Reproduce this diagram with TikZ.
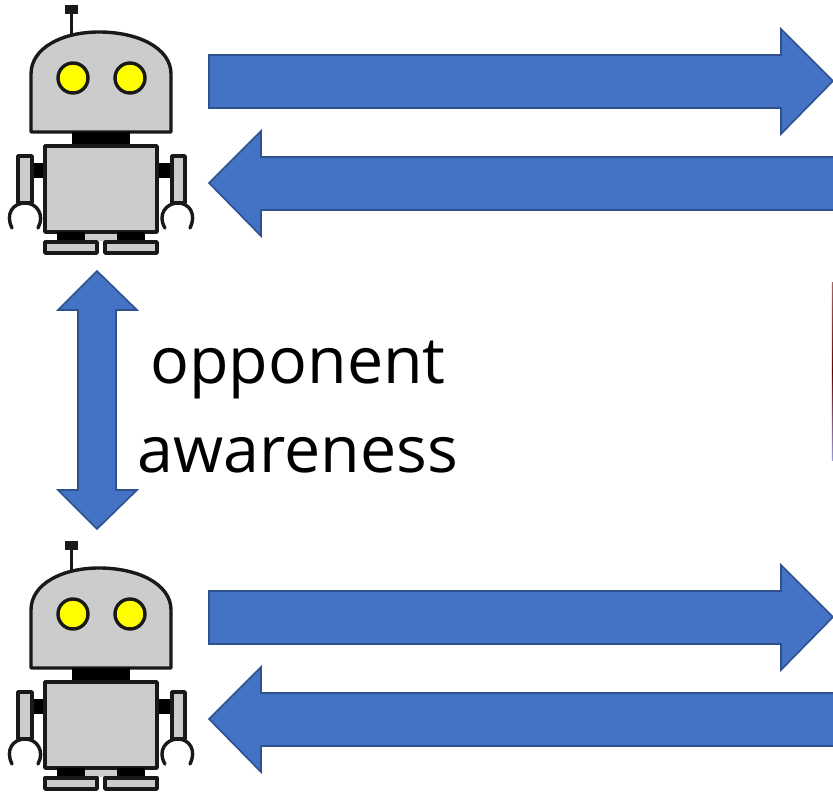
\documentclass[tikz,border=0pt]{standalone}
\usepackage{fontspec}
\setmainfont{Open Sans}
\definecolor{blockfill}{HTML}{4472C4}
\definecolor{blockline}{HTML}{2F528F}
\definecolor{botgray}{HTML}{CCCCCC}
\definecolor{boteye}{HTML}{FFFF00}
\tikzset{
  blockarrow/.style={fill=blockfill,draw=blockline,line width=1.6pt,line join=miter},
  botpart/.style={fill=botgray,draw=black!90,line width=3.4pt,line join=round},
  botblack/.style={fill=black,draw=none},
  boteyes/.style={fill=boteye,draw=black!90,line width=3.4pt},
  claw/.style={draw=black!90,line width=3.4pt,line cap=round},
  label/.style={font=\fontsize{64.5pt}{64.5pt}\selectfont,text=black,inner sep=0pt,anchor=base}
}
\newcommand{\drawbot}[1]{%
\begin{scope}[shift={(0,#1)}]
  \fill[black!90] (65,5) rectangle (78,14);
  \draw[black!90,line width=3pt] (71,13) -- (71,36);
  \path[botpart] (31,132) -- (31,74) .. controls (31,48) and (62,32) .. (99,32)
     .. controls (138,32) and (171,48) .. (171,74) -- (171,132) -- cycle;
  \path[boteyes] (73,78) circle (15);
  \path[boteyes] (130,78) circle (15);
  \path[botblack] (72,132) rectangle (130,147);
  \path[botblack] (31,163) rectangle (46,178);
  \path[botblack] (156,163) rectangle (172,178);
  \path[botpart] (18,156) rectangle (32,203);
  \path[botpart] (172,156) rectangle (185,203);
  \draw[claw] (12,228) .. controls (5,214) and (13,203) .. (25,203) .. controls (37,203) and (45,215) .. (38,228);
  \draw[claw] (190,228) .. controls (197,214) and (189,203) .. (178,203) .. controls (166,203) and (157,215) .. (165,228);
  \path[botpart] (45,146) rectangle (157,232);
  \fill[botgray] (85,234) rectangle (117,241);
  \path[botblack] (57,232) rectangle (85,241);
  \path[botblack] (117,232) rectangle (145,241);
  \path[botpart] (45,242) rectangle (97,253);
  \path[botpart] (105,242) rectangle (157,253);
\end{scope}}
\newcommand{\drawpair}[1]{%
\begin{scope}[shift={(0,#1)}]
  \path[blockarrow] (209,55) -- (781,55) -- (781,29) -- (833,81) -- (781,134) -- (781,108) -- (209,108) -- cycle;
  \path[blockarrow] (835,157) -- (261,157) -- (261,131) -- (209,183) -- (261,236) -- (261,210) -- (835,210);
\end{scope}}
\begin{document}
\begin{tikzpicture}[x=1pt,y=-1pt]
  \useasboundingbox (0,0) rectangle (833,792);
  \fill[white] (0,0) rectangle (833,792);
  \begin{scope}
    \clip (0,0) rectangle (833,792);
    \drawpair{0}
    \drawpair{536}
    \drawbot{0}
    \drawbot{536}
    \path[blockarrow] (97,271) -- (137,310) -- (116,310) -- (116,490) -- (137,490) -- (97,529) -- (58,490) -- (78,490) -- (78,310) -- (58,310) -- cycle;
    \fill[top color=black!60!red!60,bottom color=black!40!blue!40,middle color=black!60!red] (831.8,282) rectangle (833,460);
  \end{scope}
  \node[label] (opp) at (298,383) {opponent};
  \node[label] (awa) at (298,472) {awareness};
\end{tikzpicture}
\end{document}
